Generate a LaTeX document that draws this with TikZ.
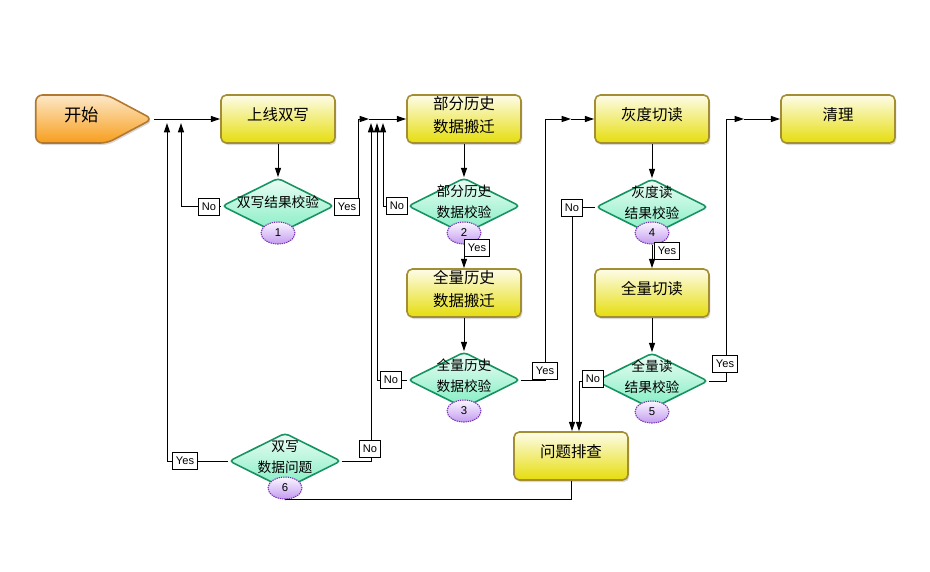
\documentclass[tikz,border=0pt]{standalone}
\usepackage{fontspec}
\newfontfamily\cjkfont{Noto Sans CJK SC}
\newfontfamily\latfont{Liberation Sans}
\usetikzlibrary{arrows.meta,shapes.geometric,shapes.symbols,shadows,calc}

\definecolor{boxtop}{RGB}{253,252,232}
\definecolor{boxbot}{RGB}{230,221,12}
\definecolor{boxline}{RGB}{163,142,52}
\definecolor{diatop}{RGB}{236,252,245}
\definecolor{diabot}{RGB}{128,238,194}
\definecolor{dialine}{RGB}{24,148,98}
\definecolor{numtop}{RGB}{250,246,255}
\definecolor{numbot}{RGB}{196,156,240}
\definecolor{numline}{RGB}{118,48,180}
\definecolor{starttop}{RGB}{253,232,200}
\definecolor{startbot}{RGB}{247,158,28}
\definecolor{startline}{RGB}{178,120,48}

\tikzset{
  procbox/.style={draw=boxline, line width=1.2pt, rounded corners=4pt, top color=boxtop, bottom color=boxbot,
    minimum width=85.5pt, minimum height=36pt, inner sep=0pt,
    drop shadow={opacity=0.3, shadow xshift=1pt, shadow yshift=-1.5pt}},
  startbox/.style={signal, signal to=east, signal pointer angle=56, draw=startline, line width=1.2pt,
    rounded corners=5pt, top color=starttop, bottom color=startbot,
    minimum width=87.5pt, minimum height=36pt, inner sep=0pt,
    drop shadow={opacity=0.3, shadow xshift=1pt, shadow yshift=-1.5pt}},
  checkdia/.style={diamond, draw=dialine, line width=1.2pt, rounded corners=3pt, top color=diatop, bottom color=diabot,
    minimum width=84pt, minimum height=42pt, inner sep=0pt},
  stepnum/.style={ellipse, draw=numline, line width=0.8pt, dash pattern=on 1pt off 0.7pt, top color=numtop, bottom color=numbot,
    minimum width=25.5pt, minimum height=16.5pt, inner sep=0pt, font=\latfont\fontsize{8.5pt}{10pt}\selectfont},
  boxtext/.style={font=\cjkfont\fontsize{11.6pt}{17.2pt}\selectfont, align=center, yshift=3pt},
  diatext/.style={font=\cjkfont\fontsize{10.3pt}{15.8pt}\selectfont, align=center, yshift=3pt},
  yesno/.style={draw, fill=white, line width=0.6pt, font=\latfont\fontsize{8.3pt}{10pt}\selectfont,
    inner xsep=2.5pt, inner ysep=0pt, minimum height=12.75pt, minimum width=16pt},
  conn/.style={line width=0.75pt, -{Triangle[length=7pt,width=4.5pt]}},
  plain/.style={line width=0.75pt}
}

\begin{document}
\begin{tikzpicture}[x=0.75pt,y=0.75pt,yscale=-1,xscale=1]
\useasboundingbox (0,0) rectangle (930,571);

% Start
\node[startbox, label={[boxtext, xshift=7.5pt, font=\cjkfont\fontsize{13pt}{15pt}\selectfont]center:开始}] (start) at (71.5,119) {};

% Process Boxes
\node[procbox, label={[boxtext]center:上线双写}] (b1) at (278,119) {};
\node[procbox, label={[boxtext]center:{部分历史\\数据搬迁}}] (b2) at (464,119) {};
\node[procbox, label={[boxtext]center:{全量历史\\数据搬迁}}] (b3) at (464,293) {};
\node[procbox, label={[boxtext]center:灰度切读}] (b4) at (652,119) {};
\node[procbox, label={[boxtext]center:全量切读}] (b5) at (652,293) {};
\node[procbox, label={[boxtext]center:清理}] (b6) at (838,119) {};
\node[procbox, label={[boxtext]center:问题排查}] (b7) at (571,456) {};

% Check Diamonds
\node[checkdia, label={[diatext]center:双写结果校验}] (d1) at (278,206) {};
\node[checkdia, label={[diatext]center:{部分历史\\数据校验}}] (d2) at (464,206) {};
\node[checkdia, label={[diatext]center:{全量历史\\数据校验}}] (d3) at (464,380) {};
\node[checkdia, label={[diatext]center:{灰度读\\结果校验}}] (d4) at (652,207) {};
\node[checkdia, label={[diatext]center:{全量读\\结果校验}}] (d5) at (652,381) {};
\node[checkdia, label={[diatext]center:{双写\\数据问题}}] (d6) at (285,461) {};

% Step Numbers
\node[stepnum] (c1) at (278,233) {1};
\node[stepnum] (c2) at (464,233) {2};
\node[stepnum] (c3) at (464,411) {3};
\node[stepnum] (c4) at (652,233) {4};
\node[stepnum] (c5) at (652,412) {5};
\node[stepnum] (c6) at (285,488) {6};

% Bus Points
\coordinate (bus1a) at (167,123);
\coordinate (bus1b) at (181,123);
\coordinate (bus2) at (369,119);
\coordinate (bus2a) at (371,123);
\coordinate (bus2b) at (377,123);
\coordinate (bus2c) at (383,123);
\coordinate (bus3) at (571,119);
\coordinate (bus4) at (744,119);

%Straight Lines
\draw[conn] (start) -- (b1);
\draw[conn] (b1) -- (d1);
\draw[conn] (b2) -- (d2);
\draw[conn] (c2) -- (b3);
\draw[conn] (b3) -- (d3);
\draw[conn] (b4) -- (d4);
\draw[conn] (c4) -- (b5);
\draw[conn] (b5) -- (d5);
\draw[conn] (bus2) -- (b2);
\draw[conn] (bus3) -- (b4);
\draw[conn] (bus4) -- (b6);

%Branch Lines
\draw[conn] (d1.west) -| (bus1b);
\draw[conn] (d6.west) -| (bus1a);
\draw[conn] (d1.east) -- ++(24,0) |- (bus2);
\draw[conn] (d6.east) -| (bus2a);
\draw[conn] (d3.west) -| (bus2b);
\draw[conn] (d2.west) -| (bus2c);
\draw[conn] (d3.east) -- ++(25,0) |- (bus3);
\draw[conn] (d5.east) -- ++(18,0) |- (bus4);
\draw[conn] (d4.west) -| ($(b7.north)+(1,0)$);
\draw[conn] (d5.west) -| ($(b7.north)+(8,0)$);
\draw[plain] (b7.south) -- ++(0,19) -| (c6.south);

% Yes / No Labels
\node[yesno] (n1) at (209,207) {No};
\node[yesno] (y1) at (347,207) {Yes};
\node[yesno] (n2) at (397,206) {No};
\node[yesno] (y2) at (477,248) {Yes};
\node[yesno] (n3) at (391,380) {No};
\node[yesno] (y3) at (545,371) {Yes};
\node[yesno] (n4) at (572,208) {No};
\node[yesno] (y4) at (667,251) {Yes};
\node[yesno] (n5) at (593,379) {No};
\node[yesno] (y5) at (725,364) {Yes};
\node[yesno] (y6) at (185,461) {Yes};
\node[yesno] (n6) at (370,449) {No};

\end{tikzpicture}
\end{document}
